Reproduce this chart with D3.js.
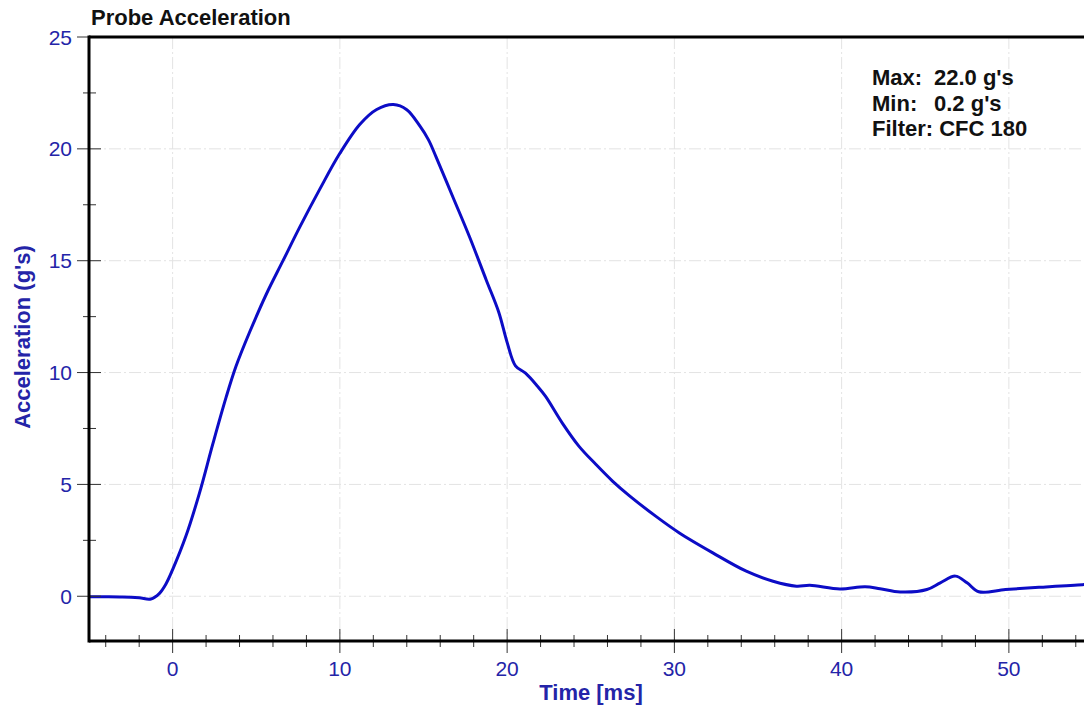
<!DOCTYPE html>
<html>
<head>
<meta charset="utf-8">
<script src="https://cdn.jsdelivr.net/npm/d3@7"></script>
<style>
  html, body { margin: 0; padding: 0; background: #fff; overflow: hidden; }
  svg { display: block; font-family: "Liberation Sans", Arial, sans-serif; }
</style>
</head>
<body>
<svg id="chart" width="1084" height="709"></svg>
<script>
// ---- data ----
const timeMs = [-5, -4, -3, -2, -1.3, -0.8, -0.4, 0, 0.8, 1.6, 2.4, 3.2, 3.8, 4.6, 5.6, 6.6, 7.6, 8.8, 10,
  11.2, 12.2, 13.2, 14.0, 14.8, 15.3, 15.75, 16.75, 17.75, 18.75, 19.5, 20.0, 20.5, 21.1, 21.8, 22.3, 23.3,
  24.3, 25.3, 26.3, 27.3, 28.9, 30.3, 32.3, 34.3, 35.9, 37.3, 38.1, 39.9, 41.4, 42.3, 43.5, 45.1, 45.9,
  46.8, 47.5, 48.2, 49.8, 51.8, 54.4, 55];
const accelG = [-0.02, -0.02, -0.03, -0.07, -0.12, 0.12, 0.55, 1.19, 2.7, 4.6, 6.8, 8.9, 10.3, 11.8, 13.5, 15.0, 16.5, 18.2, 19.8,
  21.1, 21.76, 21.98, 21.75, 21.0, 20.4, 19.64, 17.86, 16.07, 14.14, 12.7, 11.35, 10.3, 9.97, 9.4, 8.93, 7.74,
  6.7, 5.9, 5.15, 4.5, 3.57, 2.83, 1.94, 1.12, 0.67, 0.45, 0.49, 0.33, 0.43, 0.34, 0.19, 0.3, 0.6,
  0.9, 0.6, 0.2, 0.3, 0.4, 0.52, 0.53];
const xMajorTicks = [0, 10, 20, 30, 40, 50];
const xMinorTicks = [-4, -2, 2, 4, 6, 8, 12, 14, 16, 18, 22, 24, 26, 28, 32, 34, 36, 38, 42, 44, 46, 48, 52, 54];
const yMajorTicks = [0, 5, 10, 15, 20, 25];
const yMinorTicks = [2.5, 7.5, 12.5, 17.5, 22.5];
const titleText = "Probe Acceleration";
const xTitle = "Time [ms]";
const yTitle = "Acceleration (g's)";
const statLabels = ["Max:", "Min:"];
const statValues = ["22.0 g's", "0.2 g's"];
const filterText = "Filter: CFC 180";

// ---- layout ----
const plotL = 89, plotT = 37, plotB = 641, plotR = 1092.5;
const blueText = "#2424a8";
const svg = d3.select("#chart");

const x = d3.scaleLinear().domain([-5, 55]).range([plotL, plotR]);
const y = d3.scaleLinear().domain([-2, 25]).range([plotB, plotT]);

// gridlines
const grid = svg.append("g").attr("stroke", "#e3e3e3").attr("stroke-width", 1)
  .attr("stroke-dasharray", "12,3,2,3");
grid.selectAll(".gx").data(xMajorTicks).join("line")
  .attr("x1", d => x(d)).attr("x2", d => x(d)).attr("y1", plotT).attr("y2", plotB);
grid.selectAll(".gy").data(yMajorTicks.filter(d => d < 25)).join("line")
  .attr("x1", plotL).attr("x2", 1084).attr("y1", d => y(d)).attr("y2", d => y(d));

// curve
const line = d3.line().x((d, i) => x(timeMs[i])).y(d => y(d)).curve(d3.curveCatmullRom.alpha(0.5));
svg.append("path").datum(accelG).attr("d", line)
  .attr("fill", "none").attr("stroke", "#0c0cc6").attr("stroke-width", 3)
  .attr("stroke-linejoin", "round");

// ticks
const tk = svg.append("g").attr("stroke", "#333").attr("stroke-width", 1);
tk.selectAll(".xM").data(xMajorTicks).join("line")
  .attr("x1", d => x(d)).attr("x2", d => x(d)).attr("y1", plotB - 12).attr("y2", plotB + 12);
tk.selectAll(".xm").data(xMinorTicks).join("line")
  .attr("x1", d => x(d)).attr("x2", d => x(d)).attr("y1", plotB - 6).attr("y2", plotB + 6);
tk.selectAll(".yM").data(yMajorTicks).join("line")
  .attr("x1", plotL - 12).attr("x2", d => d === 25 ? plotL : plotL + 12).attr("y1", d => y(d)).attr("y2", d => y(d));
tk.selectAll(".ym").data(yMinorTicks).join("line")
  .attr("x1", plotL - 6).attr("x2", plotL + 7).attr("y1", d => y(d)).attr("y2", d => y(d));

// frame
svg.append("line").attr("x1", plotL).attr("x2", 1084).attr("y1", plotT).attr("y2", plotT)
  .attr("stroke", "#000").attr("stroke-width", 3);
svg.append("line").attr("x1", plotL).attr("x2", 1084).attr("y1", plotB).attr("y2", plotB)
  .attr("stroke", "#000").attr("stroke-width", 3);
svg.append("line").attr("x1", plotL).attr("x2", plotL).attr("y1", plotT - 1.5).attr("y2", plotB + 1.5)
  .attr("stroke", "#000").attr("stroke-width", 3);

// tick labels
svg.append("g").selectAll("text").data(yMajorTicks).join("text")
  .attr("x", 72).attr("y", d => y(d)).attr("dy", "0.36em").attr("text-anchor", "end")
  .attr("font-size", 21).attr("fill", blueText).text(d => d);
svg.append("g").selectAll("text").data(xMajorTicks).join("text")
  .attr("x", d => x(d)).attr("y", 676).attr("text-anchor", "middle")
  .attr("font-size", 21).attr("fill", blueText).text(d => d);

// titles
svg.append("text").attr("x", 91).attr("y", 25).attr("font-size", 22).attr("font-weight", "bold")
  .attr("fill", "#111").text(titleText);
svg.append("text").attr("x", 591).attr("y", 700).attr("text-anchor", "middle")
  .attr("font-size", 22).attr("font-weight", "bold").attr("fill", blueText).text(xTitle);
svg.append("text").attr("transform", "translate(30,337) rotate(-90)").attr("text-anchor", "middle")
  .attr("font-size", 22).attr("font-weight", "bold").attr("fill", blueText).text(yTitle);

// annotation
const ann = svg.append("g").attr("font-size", 22).attr("font-weight", "bold").attr("fill", "#111");
statLabels.forEach((lab, i) => {
  const t = ann.append("text").attr("y", 85 + i * 25.5);
  t.append("tspan").attr("x", 872).text(lab);
  t.append("tspan").attr("x", 934).text(statValues[i]);
});
ann.append("text").attr("x", 872).attr("y", 85 + 2 * 25.5).text(filterText);
</script>
</body>
</html>
